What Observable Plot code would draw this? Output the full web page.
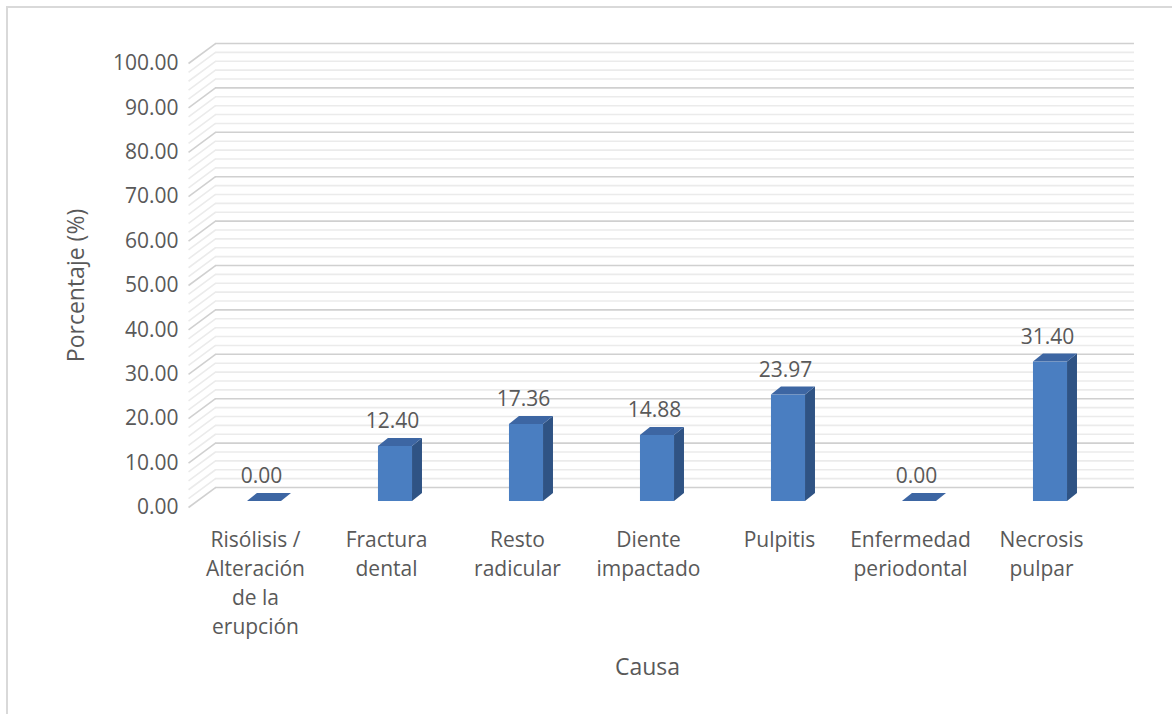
<!DOCTYPE html>
<html>
<head>
<meta charset="utf-8">
<script src="https://cdn.jsdelivr.net/npm/d3@7"></script>
<script src="https://cdn.jsdelivr.net/npm/@observablehq/plot@0.6"></script>
<style>
  html, body { margin: 0; padding: 0; background: #fff; }
  #wrap { position: relative; width: 1172px; height: 714px; overflow: hidden; }
  #border { position: absolute; left: 6px; top: 6px; width: 1200px; height: 800px; border-left: 2px solid #d9d9d9; border-top: 2px solid #d9d9d9; pointer-events: none; }
</style>
</head>
<body>
<div id="wrap"><div id="chart"></div><div id="border"></div></div>
<script>
// ---- data ----
const categories = [
  "Risólisis /\nAlteración\nde la\nerupción",
  "Fractura\ndental",
  "Resto\nradicular",
  "Diente\nimpactado",
  "Pulpitis",
  "Enfermedad\nperiodontal",
  "Necrosis\npulpar"
];
const values = [0.00, 12.40, 17.36, 14.88, 23.97, 0.00, 31.40];
const yMajorTicks = [0, 10, 20, 30, 40, 50, 60, 70, 80, 90, 100];
const yMinorTicks = [2, 4, 6, 8, 12, 14, 16, 18, 22, 24, 26, 28, 32, 34, 36, 38, 42, 44, 46, 48, 52, 54, 56, 58, 62, 64, 66, 68, 72, 74, 76, 78, 82, 84, 86, 88, 92, 94, 96, 98];
const xTitle = "Causa";
const yTitle = "Porcentaje (%)";

// ---- 3D geometry (in data units) ----
const wallDX = 0.206, wallDY = 4.5;       // depth offset of back wall
const frontLeft = -0.58, wallRight = 6.641;
const barHalf = 0.13, barDX = 0.076, barDY = 1.8, barBase = 1.35;

const idx = values.map((v, i) => i);
const sideData = [], topData = [];
values.forEach((v, i) => {
  sideData.push({k: i, x: i + barHalf, y1: barBase, y2: barBase + v});
  sideData.push({k: i, x: i + barHalf + barDX, y1: barBase + barDY, y2: barBase + v + barDY});
  topData.push({k: i, y: barBase + v, x1: i - barHalf, x2: i + barHalf});
  topData.push({k: i, y: barBase + v + barDY, x1: i - barHalf + barDX, x2: i + barHalf + barDX});
});

const textColor = "#595959";
const gridMajor = "#d0d0d0", gridMinor = "#ebebeb";
const labelSize = 21, titleSize = 23;

const gridLines = (ticks, color) => [
  Plot.ruleY(ticks, {y: d => d + wallDY, x1: frontLeft + wallDX, x2: wallRight, stroke: color, strokeWidth: 1.6}),
  Plot.link(ticks, {x1: frontLeft, y1: d => d, x2: frontLeft + wallDX, y2: d => d + wallDY, stroke: color, strokeWidth: 1.6})
];

const chart = Plot.plot({
  width: 1172,
  height: 714,
  marginLeft: 188,
  marginRight: 66,
  marginTop: 63,
  marginBottom: 207,
  style: {fontFamily: "'Open Sans', sans-serif", fontSize: "21px", background: "transparent"},
  x: {type: "linear", domain: [0, 6], range: [264, 1050]},
  y: {type: "linear", domain: [0, 100], range: [507, 63]},
  marks: [
    ...gridLines(yMinorTicks, gridMinor),
    ...gridLines(yMajorTicks, gridMajor),
    Plot.axisY(yMajorTicks, {anchor: "left", tickSize: 0, tickPadding: 10, tickFormat: d3.format(".2f"), color: textColor, label: null, fontSize: labelSize}),
    Plot.axisX(idx, {anchor: "bottom", tickSize: 0, tickPadding: 19, tickFormat: i => categories[i], dx: -9, lineHeight: 29 / labelSize, color: textColor, label: null, fontSize: labelSize}),
    Plot.rect(values, {x1: (d, i) => i - barHalf, x2: (d, i) => i + barHalf, y1: barBase, y2: d => barBase + d, fill: "#4a7ec1"}),
    Plot.areaY(sideData, {x: "x", y1: "y1", y2: "y2", z: "k", fill: "#2f5384"}),
    Plot.areaX(topData, {y: "y", x1: "x1", x2: "x2", z: "k", fill: "#3d66a3"}),
    Plot.text(values, {x: (d, i) => i, y: d => barBase + d, text: d => d3.format(".2f")(d), dy: -25, dx: -3, fill: textColor, fontSize: labelSize}),
    Plot.text([xTitle], {frameAnchor: "bottom", dy: 160, lineAnchor: "middle", fill: textColor, fontSize: titleSize}),
    Plot.text([yTitle], {frameAnchor: "left", rotate: -90, dx: -112, textAnchor: "middle", lineAnchor: "middle", fill: textColor, fontSize: titleSize})
  ]
});
document.getElementById("chart").appendChild(chart);
</script>
</body>
</html>
